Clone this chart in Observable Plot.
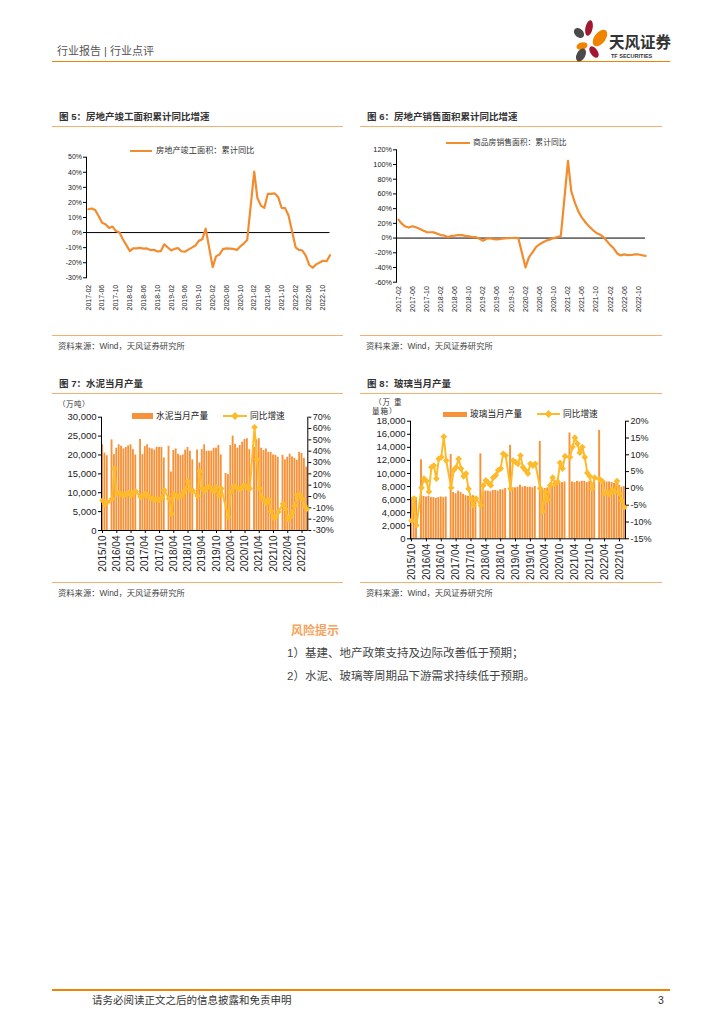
<!DOCTYPE html>
<html><head><meta charset="utf-8">
<script src="https://cdn.jsdelivr.net/npm/d3@7"></script>
<script src="https://cdn.jsdelivr.net/npm/@observablehq/plot@0.6"></script>
<style>
body{margin:0;background:#fff;}
#page{position:relative;width:724px;height:1024px;overflow:hidden;background:#fff;font-family:"Liberation Sans","Noto Sans CJK SC",sans-serif;}
.abs{position:absolute;white-space:nowrap;}
</style></head><body><div id="page"></div>
<script>
// ---------- DATA ----------
// Fig 5 / Fig 6 : monthly cumulative YoY (%), Feb–Dec of each year 2017–2022
const years56 = ["2017","2018","2019","2020","2021","2022"];
const febToDec = ["02","03","04","05","06","07","08","09","10","11","12"];
const ticks56 = ["2017-02","2017-06","2017-10","2018-02","2018-06","2018-10","2019-02","2019-06","2019-10","2020-02","2020-06","2020-10","2021-02","2021-06","2021-10","2022-02","2022-06","2022-10"];
const completionYoY = [
  15.5, 16, 15, 11, 6.5, 5.5, 3, 4, 1, 0, -4.4,
  -12.3, -10.5, -10.5, -10.2, -10.6, -10.5, -11.6, -11.4, -12.5, -12.3, -7.8,
  -11.9, -10.8, -10.3, -12.4, -12.7, -11.3, -10.0, -8.6, -5.5, -4.5, 2.6,
  -22.9, -15.8, -14.5, -11.0, -10.5, -10.6, -10.8, -11.6, -9.2, -7.3, -4.9,
  40.4, 22.9, 17.9, 16.4, 25.7, 25.7, 26.0, 23.4, 16.3, 16.2, 11.2,
  -9.8, -11.5, -11.9, -15.3, -21.5, -23.3, -21.1, -19.9, -18.7, -19.0, -15.0
];
const salesYoY = [
  25.1, 19.5, 15.7, 14.3, 16.1, 14.7, 12.7, 10.3, 8.2, 7.9, 7.7,
  4.1, 3.6, 1.3, 2.9, 3.3, 4.2, 4.0, 2.9, 2.2, 1.4, 1.3,
  -3.6, -0.9, -0.3, -1.6, -1.8, -1.3, -0.6, -0.1, 0.1, 0.2, -0.1,
  -39.9, -26.3, -19.3, -12.3, -8.4, -5.8, -3.3, -1.8, 0.0, 1.3, 2.6,
  104.9, 63.8, 48.1, 36.3, 27.7, 21.5, 15.9, 11.3, 7.2, 4.8, 1.9,
  -9.6, -13.8, -20.9, -23.6, -22.2, -23.1, -23.0, -22.2, -22.3, -23.3, -24.3
];
const yTicks5 = [-30,-20,-10,0,10,20,30,40,50];
const yTicks6 = [-60,-40,-20,0,20,40,60,80,100,120];

// Fig 7 / Fig 8 : monthly, 2015/10 – 2022/12 (January not reported)
const years78 = ["2016","2017","2018","2019","2020","2021","2022"];
const janToDec = ["01","02","03","04","05","06","07","08","09","10","11","12"];
const ticks78 = ["2015/10","2016/04","2016/10","2017/04","2017/10","2018/04","2018/10","2019/04","2019/10","2020/04","2020/10","2021/04","2021/10","2022/04","2022/10"];
const cementOutput = [
  22700, 20500, 19800,
  null, 24000, 20100, 21800, 22700, 22300, 21600, 22000, 22400, 22700, 21400, 20000,
  null, 24100, 20100, 22200, 22700, 21800, 21600, 21300, 22000, 22000, 22000, 19200,
  null, 22300, 15500, 21200, 21600, 20200, 19800, 20000, 21300, 22000, 21000, 18700,
  null, 21300, 17900, 21400, 22700, 21000, 21000, 21000, 21800, 21800, 22500, 20000,
  null, 15100, 14800, 22500, 25000, 22800, 21800, 22500, 23400, 24100, 24300, 21400,
  null, 22000, 24000, 24300, 21800, 21200, 21600, 20700, 20700, 20000, 19900, 19400,
  null, 19900, 18700, 19400, 20200, 19500, 19100, 18600, 20700, 20400, 19100, 16800
];
const cementYoY = [
  -3.5, -7, -5,
  null, -2, 24.4, 2.4, 3.2, 1.8, 0.9, 2.4, 3.2, 0.9, 3.2, 4.4,
  null, -0.5, 0.3, 2.5, 1.0, -1.0, -2.0, -3.0, -2.0, -3.0, -1.0, 5.5,
  null, -2.0, -15.3, 2.0, 1.0, -0.5, 0.5, 3.0, 6.5, 13.5, 6.0, 5.0,
  null, 0.5, 22.3, 7.0, 5.0, 8.0, 8.5, 6.5, 4.5, 8.0, 1.0, 7.0,
  null, null, -18.3, 3.8, 8.6, 8.8, 7.1, 6.1, 8.9, 9.6, 8.0, 7.0,
  null, 61.1, 32.8, 7.4, -0.4, -3.0, -5.9, -2.8, -13.0, -18.6, -18.2, -13.6,
  null, -6.5, -11.0, -20.0, -18.0, -14.0, -8.0, 1.0, 1.5, -2.0, -8.0, -11.0
];
const glassOutput = [
  6300, 6200, 6300,
  null, 12100, 6500, 6400, 6500, 6300, 6300, 6200, 6300, 6400, 6300, 6400,
  null, 12900, 7100, 6900, 7300, 7100, 6800, 6600, 6500, 6300, 6600, 6300,
  null, 13000, 7200, 7300, 7300, 7200, 7400, 7400, 7300, 7500, 7500, 7700,
  null, 14300, 7800, 7800, 7900, 8200, 7900, 8000, 7900, 7900, 7800, 8000,
  null, 14900, 7600, 7700, 7800, 7900, 8100, 8300, 8400, 8500, 8600, 8700,
  null, 16200, 8700, 8600, 8800, 8700, 8800, 8800, 8600, 8800, 8600, 8800,
  null, 16600, 8800, 8700, 8700, 8700, 8600, 8500, 8400, 8200, 7900, 8000
];
const glassYoY = [
  -9.6, -3.0, -11.0,
  null, 0.2, 2.9, 2.2, -1.0, 6.3, 6.8, 2.9, 8.8, 9.3, 15.4, 8.3,
  null, 0.2, 5.4, 6.3, 8.8, 5.9, 3.6, 4.4, -0.1, -3.1, -5.1, -3.0,
  null, -5.1, 0.9, 2.4, 1.7, 0.9, 3.2, 3.9, 5.4, 5.9, 10.3, 9.8,
  null, -0.1, 8.3, 7.8, 7.3, 9.8, 6.3, 5.4, 4.4, 7.3, 6.8, 7.3,
  null, 0.0, -6.8, -1.0, -3.4, 0.9, 3.2, 1.4, 2.0, 7.6, 5.9, 9.6,
  null, 9.3, 12.3, 15.1, 13.3, 10.6, 12.3, 9.3, 4.6, 3.6, -0.1, 3.2,
  null, 2.7, 2.2, -1.4, -1.2, -1.7, -0.5, -1.0, 2.2, -1.5, -3.6, -5.6
];
const leftTicks7 = [0,5000,10000,15000,20000,25000,30000];
const rightTicks7 = [-30,-20,-10,0,10,20,30,40,50,60,70];
const leftTicks8 = [0,2000,4000,6000,8000,10000,12000,14000,16000,18000];
const rightTicks8 = [-15,-10,-5,0,5,10,15,20];

// ---------- HELPERS ----------
const page = document.getElementById("page");
const ORANGE_LINE = "#F28C2E", BAR = "#F5923A", YELLOW = "#FDBA2A";
const FONT = "'Liberation Sans','Noto Sans CJK SC',sans-serif";
function txt(s, x, y, size, o = {}) {
  const d = document.createElement("div");
  d.className = "abs"; d.textContent = s;
  Object.assign(d.style, {left: x + "px", top: y + "px", fontSize: size + "px", lineHeight: "1",
    transform: "translateY(-50%)", color: o.color || "#333", fontWeight: o.weight || "normal",
    letterSpacing: o.ls || "normal", fontFamily: o.family || FONT});
  page.appendChild(d); return d;
}
function hline(x1, x2, y, color, w) {
  const d = document.createElement("div");
  Object.assign(d.style, {position: "absolute", left: x1 + "px", top: (y - w / 2) + "px", width: (x2 - x1) + "px", height: w + "px", background: color});
  page.appendChild(d);
}
function place(el, x, y) { el.style.position = "absolute"; el.style.left = x + "px"; el.style.top = y + "px"; page.appendChild(el); }
function svgEl(html, x, y, w, h) {
  const d = document.createElement("div");
  d.innerHTML = `<svg width="${w}" height="${h}" xmlns="http://www.w3.org/2000/svg">${html}</svg>`;
  place(d, x, y); d.style.lineHeight = "0";
}

// ---------- HEADER / FOOTER ----------
txt("行业报告 | 行业点评", 57, 51, 11, {color: "#555"});
hline(52, 670, 61.5, "#F08300", 1.6);
svgEl(`
  <ellipse cx="17" cy="10" rx="3.6" ry="8" transform="rotate(12 17 10)" fill="#A3172F"/>
  <ellipse cx="28" cy="20" rx="5.5" ry="9.5" transform="rotate(38 28 20)" fill="#F08300"/>
  <ellipse cx="7" cy="15" rx="4.2" ry="5.8" transform="rotate(-45 7 15)" fill="#4A4A4A"/>
  <ellipse cx="10" cy="28" rx="5.6" ry="3.6" transform="rotate(-15 10 28)" fill="#F08300"/>
  <ellipse cx="9" cy="37" rx="4.3" ry="7" transform="rotate(28 9 37)" fill="#4A4A4A"/>
  <ellipse cx="22" cy="34" rx="3.6" ry="6.5" transform="rotate(-35 22 34)" fill="#A3172F"/>
`, 572, 18, 40, 46);
txt("天风证券", 609, 43, 15.5, {color: "#333", weight: "bold"});
txt("TF SECURITIES", 611, 57, 5.5, {color: "#333", weight: "bold"});
hline(52, 670, 990, "#F08300", 1.6);
txt("请务必阅读正文之后的信息披露和免责申明", 92, 1000, 10.5, {color: "#333"});
txt("3", 658, 1000, 10.5, {color: "#333"});

// ---------- PANEL FRAMES ----------
function panel(x1, x2, title, yTitle, yLine, ySrcLine, ySrc) {
  txt(title, x1 + 7, yTitle, 9.5, {color: "#333", weight: "bold"});
  hline(x1, x2, yLine, "#F5B06E", 1);
  hline(x1, x2, ySrcLine, "#F5B06E", 1);
  txt("资料来源：Wind，天风证券研究所", x1 + 6, ySrc, 8.3, {color: "#444"});
}
panel(52, 343, "图 5：房地产竣工面积累计同比增速", 116.5, 126, 335.7, 346);
panel(360, 662, "图 6：房地产销售面积累计同比增速", 116.5, 126, 335.7, 346);
panel(52, 343, "图 7：水泥当月产量", 383.5, 393.3, 582.8, 593.3);
panel(360, 662, "图 8：玻璃当月产量", 383.5, 393.3, 582.8, 593.3);

// ---------- FIG 5 & 6 ----------
const parseM = d3.utcParse("%Y-%m");
const months56 = [];
for (const y of years56) for (const m of febToDec) months56.push(`${y}-${m}`);
const d5 = months56.map((m, i) => ({date: parseM(m), v: completionYoY[i]}));
const d6 = months56.map((m, i) => ({date: parseM(m), v: salesYoY[i]}));

function lineChart(data, o) {
  return Plot.plot({
    width: o.width, height: o.height,
    marginLeft: o.ml, marginRight: o.mr, marginTop: o.mt, marginBottom: o.mb,
    style: {fontFamily: FONT, color: "#222", background: "none", overflow: "visible"},
    x: {type: "utc", domain: [parseM("2017-02"), parseM("2022-12")], insetLeft: 2},
    y: {domain: o.ydomain},
    marks: [
      Plot.frame({anchor: "left", stroke: "#000", strokeWidth: 1}),
      Plot.ruleY([0], {stroke: "#000", strokeWidth: 1}),
      Plot.axisY(o.yticks, {label: null, tickFormat: d => d + "%", tickSize: 3, tickPadding: 1.5, fontSize: o.yfs, stroke: "#000"}),
      Plot.axisX(ticks56.map(parseM), {label: null, tickFormat: d3.utcFormat("%Y-%m"), tickRotate: -90, tickSize: 0, tickPadding: o.xpad, fontSize: 7}),
      Plot.line(data, {x: "date", y: "v", stroke: ORANGE_LINE, strokeWidth: 2.2})
    ]
  });
}
place(lineChart(d5, {width: 291, height: 170, ml: 34, mr: 13.5, mt: 6.7, mb: 42.7, ydomain: [-30, 50], yticks: yTicks5, yfs: 7, xpad: 7}), 52, 150);
place(lineChart(d6, {width: 300, height: 180, ml: 36, mr: 15, mt: 9.3, mb: 38.3, ydomain: [-60, 120], yticks: yTicks6, yfs: 7.3, xpad: 4}), 360, 140);

// legends 5 & 6
hline(130, 152, 151, ORANGE_LINE, 2.2);
txt("房地产竣工面积：累计同比", 156, 151, 8.2, {color: "#333"});
hline(446, 470, 143.3, ORANGE_LINE, 2.2);
txt("商品房销售面积：累计同比", 473, 143.3, 7.8, {color: "#333"});

// ---------- FIG 7 & 8 ----------
const months78 = ["2015/10", "2015/11", "2015/12"];
for (const y of years78) for (const m of janToDec) months78.push(`${y}/${m}`);

function comboChart(bars, yoy, o) {
  const bd = months78.map((m, i) => ({m, v: bars[i]})).filter(d => d.v != null);
  const ld = months78.map((m, i) => ({m, v: yoy[i]})).filter(d => d.v != null);
  const [r0, r1] = o.rdomain, [l0, l1] = o.ldomain;
  const toL = v => l0 + (v - r0) / (r1 - r0) * (l1 - l0);
  const fromL = v => r0 + (v - l0) / (l1 - l0) * (r1 - r0);
  return Plot.plot({
    width: o.width, height: o.height,
    marginLeft: o.ml, marginRight: o.mr, marginTop: o.mt, marginBottom: o.mb,
    style: {fontFamily: FONT, color: "#222", background: "none", overflow: "visible"},
    x: {type: "band", domain: months78, paddingInner: 0.22, paddingOuter: 0.05},
    y: {domain: o.ldomain},
    marks: [
      Plot.barY(bd, {x: "m", y: "v", fill: BAR}),
      Plot.frame({anchor: "left", stroke: "#000"}),
      Plot.frame({anchor: "right", stroke: "#000"}),
      Plot.ruleY([l0], {stroke: "#000"}),
      Plot.axisY(o.lticks, {label: null, tickFormat: d3.format(","), tickSize: 3, tickPadding: 2, fontSize: 9.5, stroke: "#000"}),
      Plot.axisY(o.rticks.map(toL), {label: null, anchor: "right", tickFormat: d => Math.round(fromL(d)) + "%", tickSize: 3, tickPadding: 2, fontSize: 9, stroke: "#000"}),
      Plot.axisX(ticks78, {label: null, tickRotate: -90, tickSize: 3, tickPadding: 2, fontSize: 10, stroke: "#000"}),
      Plot.line(ld, {x: "m", y: d => toL(d.v), stroke: YELLOW, strokeWidth: 2}),
      Plot.dot(ld, {x: "m", y: d => toL(d.v), symbol: "diamond2", r: 3, fill: YELLOW})
    ]
  });
}
place(comboChart(cementOutput, cementYoY, {width: 291, height: 170, ml: 49, mr: 35.7, mt: 6.7, mb: 50,
  ldomain: [0, 30000], rdomain: [-30, 70], lticks: leftTicks7, rticks: rightTicks7}), 52, 410);
place(comboChart(glassOutput, glassYoY, {width: 300, height: 170, ml: 50, mr: 35, mt: 6.7, mb: 45.7,
  ldomain: [0, 18000], rdomain: [-15, 20], lticks: leftTicks8, rticks: rightTicks8}), 360, 414);

// units
txt("（万吨）", 58, 404.5, 7.5, {color: "#333", ls: "0.5px"});
txt("（万 重", 374, 402.5, 7.5, {color: "#333", ls: "1px"});
txt("量箱）", 372, 412, 7.5, {color: "#333", ls: "1px"});

// legends 7 & 8
function comboLegend(x1, x2, y, name, lx1, lx2, name2) {
  const r = document.createElement("div");
  Object.assign(r.style, {position: "absolute", left: x1 + "px", top: (y - 2.8) + "px", width: (x2 - x1) + "px", height: "5.6px", background: BAR});
  page.appendChild(r);
  txt(name, x2 + 3, y, 8.7, {color: "#222"});
  const cx = (lx2 - lx1) / 2;
  svgEl(`<line x1="0" y1="5" x2="${lx2 - lx1}" y2="5" stroke="${YELLOW}" stroke-width="2"/>
    <path d="M${cx},1 L${cx + 4},5 L${cx},9 L${cx - 4},5 Z" fill="${YELLOW}"/>`, lx1, y - 5, lx2 - lx1, 10);
  txt(name2, lx2 + 3, y, 8.7, {color: "#222"});
}
comboLegend(132, 153, 416, "水泥当月产量", 223, 247, "同比增速");
comboLegend(443, 467, 414.3, "玻璃当月产量", 537, 560, "同比增速");

// ---------- RISK ----------
txt("风险提示", 291, 631, 12, {color: "#F4A460", weight: "bold"});
txt("1）基建、地产政策支持及边际改善低于预期；", 287, 654, 11.5, {color: "#444"});
txt("2）水泥、玻璃等周期品下游需求持续低于预期。", 287, 676.5, 11.5, {color: "#444"});
</script></body></html>
